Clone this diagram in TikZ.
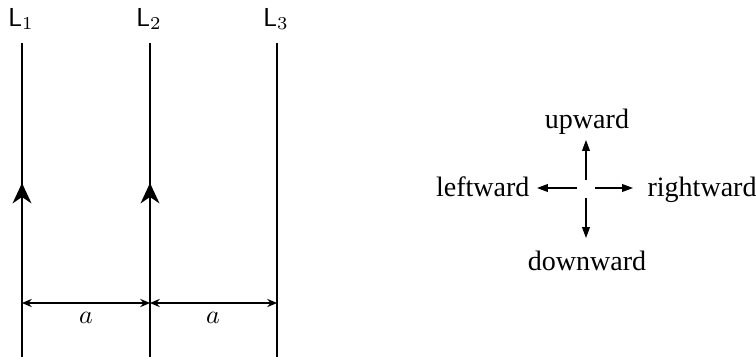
\documentclass[tikz,border=0pt]{standalone}
\usepackage{fontspec}
\newfontfamily\tnr{Liberation Serif}
\usetikzlibrary{arrows.meta}
\begin{document}
\begin{tikzpicture}[x=0.385pt,y=-0.385pt,
  wire/.style={line width=0.95pt},
  midhead/.style={line width=0.95pt,-{Stealth[length=7.8pt,width=7.2pt,inset=2.4pt]}},
  dim/.style={line width=0.4pt,{Stealth[length=3.8pt,width=3.2pt,inset=1.3pt]}-{Stealth[length=3.8pt,width=3.2pt,inset=1.3pt]}},
  compass/.style={line width=0.5pt,-{Triangle[length=4.2pt,width=3pt]}},
  lab/.style={inner sep=0pt},
  word/.style={inner sep=0pt,font=\tnr\fontsize{10.8pt}{13pt}\selectfont}]
\useasboundingbox (0,0) rectangle (756,357);
% lines
\foreach \n/\x in {1/22,2/150,3/277}{
  \coordinate (t\n) at (\x,43);
  \coordinate (b\n) at (\x,357);
  \coordinate (d\n) at (\x,303);
  \node[lab] (L\n) at (\x-1,19) {$\mathsf{L}_{\n}$};
  \draw[wire] (b\n) -- (t\n);
}
\coordinate (h1) at (22,183);
\coordinate (h2) at (150,183);
\draw[midhead] (b1) -- (h1);
\draw[midhead] (b2) -- (h2);
% dimensions
\draw[dim] (d1) -- (d2);
\draw[dim] (d2) -- (d3);
\node[lab] (a1) at (86,318) {$a$};
\node[lab] (a2) at (213,318) {$a$};
% compass
\coordinate (cu0) at (586,180);
\coordinate (cu1) at (586,140);
\coordinate (cd0) at (586,198);
\coordinate (cd1) at (586,238);
\coordinate (cl0) at (577,188);
\coordinate (cl1) at (537,188);
\coordinate (cr0) at (595,188);
\coordinate (cr1) at (633,188);
\draw[compass] (cu0) -- (cu1);
\draw[compass] (cd0) -- (cd1);
\draw[compass] (cl0) -- (cl1);
\draw[compass] (cr0) -- (cr1);
\node[word,anchor=base] (up) at (587,128) {upward};
\node[word,anchor=base] (down) at (587,270) {downward};
\node[word,anchor=base east] (left) at (530,196) {leftward};
\node[word,anchor=base west] (right) at (647,196) {rightward};
\end{tikzpicture}
\end{document}
